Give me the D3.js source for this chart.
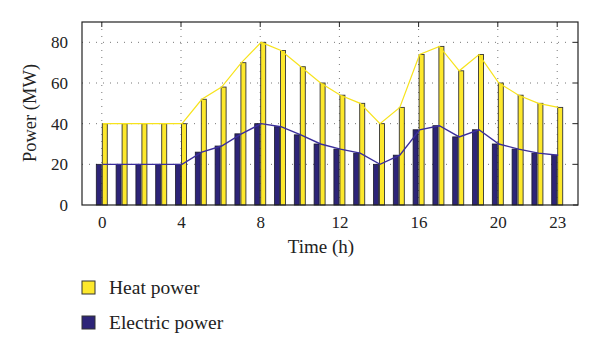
<!DOCTYPE html>
<html>
<head>
  <title>Heat and electric power</title>
  <script src="https://d3js.org/d3.v7.min.js"></script>
  <style>
    body { margin: 0; background: #fff; }
    text { font-family: "Liberation Serif", "Times New Roman", serif; fill: #222; }
  </style>
</head>
<body>
  <div id="chart"></div>
  <script>
    // hourly values
    const hours = d3.range(0, 24);
    const heatPower = [40, 40, 40, 40, 40, 52, 58, 70, 80, 76, 68, 60, 54, 50, 40, 48, 74, 78, 66, 74, 60, 54, 50, 48];
    const electricPower = [20, 20, 20, 20, 20, 26, 29, 35, 40, 38.5, 34.5, 30, 27.5, 25.5, 20, 24.5, 37, 39, 33.5, 37, 30, 27.5, 25.5, 24.5];
    const xTicks = [0, 4, 8, 12, 16, 20, 23];
    const yTicks = [0, 20, 40, 60, 80];
    const seriesNames = ["Heat power", "Electric power"];

    const heatColor = "#fde82c";
    const elecColor = "#2d2478";
    const heatLine = "#f7e31c";
    const elecLine = "#3b2e9c";

    const W = 600, H = 354;
    const margin = { top: 22, right: 22, bottom: 149, left: 82 };
    const width = W - margin.left - margin.right;
    const height = H - margin.top - margin.bottom;

    const svg = d3.select("#chart").append("svg")
      .attr("width", W).attr("height", H);
    const g = svg.append("g")
      .attr("transform", "translate(" + margin.left + "," + margin.top + ")");

    const x = d3.scaleLinear().domain([-1, 24.05]).range([0, width]);
    const y = d3.scaleLinear().domain([0, 90]).range([height, 0]);
    const barW = 5;

    // dotted grid
    g.selectAll(".vgrid").data(xTicks).enter().append("line")
      .attr("x1", d => x(d)).attr("x2", d => x(d))
      .attr("y1", 0).attr("y2", height)
      .attr("stroke", "#777").attr("stroke-width", 1)
      .attr("stroke-dasharray", "1,6");
    g.selectAll(".hgrid").data(yTicks.slice(1)).enter().append("line")
      .attr("x1", 0).attr("x2", width)
      .attr("y1", d => y(d)).attr("y2", d => y(d))
      .attr("stroke", "#777").attr("stroke-width", 1)
      .attr("stroke-dasharray", "1,6");

    // bars
    g.selectAll(".ebar").data(hours).enter().append("rect")
      .attr("x", d => x(d) - barW - 0.5)
      .attr("y", d => y(electricPower[d]))
      .attr("width", barW)
      .attr("height", d => height - y(electricPower[d]))
      .attr("fill", elecColor).attr("stroke", "#1a1a2a").attr("stroke-width", 0.8);
    g.selectAll(".hbar").data(hours).enter().append("rect")
      .attr("x", d => x(d) + 0.5)
      .attr("y", d => y(heatPower[d]))
      .attr("width", barW)
      .attr("height", d => height - y(heatPower[d]))
      .attr("fill", heatColor).attr("stroke", "#333").attr("stroke-width", 0.9);

    // lines
    const line = arr => d3.line()
      .x(d => x(d) + 1)
      .y(d => y(arr[d]))(hours);
    g.append("path").attr("d", line(heatPower))
      .attr("fill", "none").attr("stroke", heatLine).attr("stroke-width", 1.2);
    g.append("path").attr("d", line(electricPower))
      .attr("fill", "none").attr("stroke", elecLine).attr("stroke-width", 1.4);

    // axes
    const xAxis = g.append("g").attr("transform", "translate(0," + height + ")")
      .call(d3.axisBottom(x).tickValues(xTicks).tickSize(0).tickPadding(11));
    const yAxis = g.append("g")
      .call(d3.axisLeft(y).tickValues(yTicks).tickSize(0).tickPadding(14));
    [xAxis, yAxis].forEach(a => {
      a.select(".domain").remove();
      a.selectAll("text").style("font-size", "17px")
        .style("font-family", "Liberation Serif, serif").attr("fill", "#222");
    });

    // inward ticks on top and right
    g.selectAll(".ttick").data(xTicks).enter().append("line")
      .attr("x1", d => x(d)).attr("x2", d => x(d))
      .attr("y1", 0).attr("y2", 5).attr("stroke", "#222");
    g.selectAll(".rtick").data(yTicks).enter().append("line")
      .attr("x1", width - 5).attr("x2", width)
      .attr("y1", d => y(d)).attr("y2", d => y(d)).attr("stroke", "#222");

    // box
    g.append("rect").attr("width", width).attr("height", height)
      .attr("fill", "none").attr("stroke", "#222").attr("stroke-width", 1.2);

    // axis labels
    g.append("text")
      .attr("x", 239).attr("y", height + 48)
      .attr("text-anchor", "middle").style("font-size", "19px")
      .text("Time (h)");
    svg.append("text")
      .attr("transform", "translate(36,113) rotate(-90)")
      .attr("text-anchor", "middle").style("font-size", "18.5px")
      .text("Power (MW)");

    // legend
    const legend = svg.append("g").attr("transform", "translate(82,281)");
    const colors = [heatColor, elecColor];
    seriesNames.forEach((name, i) => {
      const row = legend.append("g").attr("transform", "translate(0," + (i * 35) + ")");
      row.append("rect").attr("width", 13).attr("height", 13)
        .attr("fill", colors[i]).attr("stroke", "#333").attr("stroke-width", 1);
      row.append("text").attr("x", 27).attr("y", 12.5)
        .style("font-size", "19.5px").text(name);
    });
  </script>
</body>
</html>
